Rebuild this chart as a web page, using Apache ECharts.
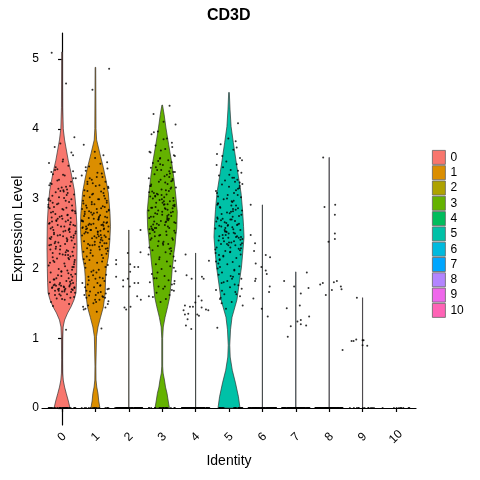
<!DOCTYPE html>
<html><head><meta charset="utf-8">
<script src="https://cdn.jsdelivr.net/npm/echarts@6/dist/echarts.min.js"></script>
<style>html,body{margin:0;padding:0;background:#fff}#c{width:480px;height:480px}</style>
</head><body><div id="c"></div>
<script>
const categories = ['0','1','2','3','4','5','6','7','8','9','10'];
const colors = ['#F8766D','#DB8E00','#AEA200','#64B200','#00BD5C','#00C1A7','#00BADE','#00A6FF','#B385FF','#EF67EB','#FF63B6'];
const yTicks = [0,1,2,3,4,5];

// violin outlines: [expression level, relative half-width]
const shape0 = [[0,0.53],[0.1,0.42],[0.21,0.28],[0.3,0.17],[0.4,0.08],[0.5,0.04],[0.7,0.03],[1.0,0.04],[1.16,0.07],[1.26,0.17],[1.36,0.37],[1.45,0.6],[1.55,0.8],[1.65,0.93],[1.8,0.96],[2.0,0.98],[2.3,1.0],[2.65,0.98],[2.88,0.92],[3.12,0.82],[3.37,0.6],[3.55,0.41],[3.84,0.17],[4.0,0.08],[4.3,0.04],[5.1,0.02]];
const shape1 = [[0,0.3],[0.1,0.22],[0.21,0.17],[0.3,0.09],[0.4,0.04],[0.6,0.03],[1.02,0.07],[1.16,0.17],[1.3,0.34],[1.45,0.53],[1.65,0.65],[1.88,0.68],[2.0,0.72],[2.16,0.86],[2.4,0.96],[2.6,1.0],[2.79,0.97],[3.08,0.86],[3.27,0.7],[3.45,0.52],[3.65,0.29],[3.84,0.08],[4.0,0.04],[4.88,0.02]];
const shape2 = [[0,0.006],[2.55,0.006]];
const shape3 = [[0,0.48],[0.1,0.4],[0.21,0.32],[0.3,0.22],[0.4,0.15],[0.5,0.06],[0.6,0.03],[1.0,0.03],[1.16,0.07],[1.3,0.19],[1.45,0.36],[1.59,0.5],[1.73,0.56],[1.86,0.62],[1.98,0.66],[2.09,0.72],[2.22,0.78],[2.34,0.86],[2.45,0.9],[2.58,0.97],[2.81,1.0],[3.05,0.9],[3.3,0.77],[3.52,0.63],[3.77,0.43],[4.01,0.25],[4.2,0.13],[4.34,0.02]];
const shape4 = [[0,0.006],[2.22,0.006]];
const shape5 = [[0,0.73],[0.16,0.63],[0.36,0.43],[0.54,0.22],[0.73,0.08],[0.9,0.05],[1.12,0.1],[1.3,0.2],[1.55,0.53],[1.79,0.68],[2.02,0.83],[2.26,0.93],[2.45,1.0],[2.6,0.97],[2.84,0.9],[3.08,0.8],[3.31,0.63],[3.55,0.46],[3.8,0.29],[4.03,0.14],[4.27,0.07],[4.52,0.02]];
const shape6 = [[0,0.006],[2.91,0.006]];
const shape7 = [[0,0.006],[1.95,0.006]];
const shape8 = [[0,0.006],[3.59,0.006]];
const shape9 = [[0,0.006],[1.58,0.006]];
const shape10 = [];
const shapes = [shape0,shape1,shape2,shape3,shape4,shape5,shape6,shape7,shape8,shape9,shape10];

// number of cells with zero expression drawn on the 0 line
const zeroCounts = [30,14,80,18,80,20,80,80,80,12,9];

// hand-made jitter offsets (category units)
const jitter = [-0.31,0.12,0.37,-0.05,-0.22,0.28,0.03,-0.39,0.19,-0.14,0.33,-0.27,0.08,0.41,-0.09,-0.35,0.24,-0.01,0.15,-0.19,0.36,-0.29,0.06,-0.41,0.21,-0.11,0.3,-0.24,0.01,0.39,-0.33,0.17,-0.07,0.26,-0.17,0.11,-0.37,0.34,-0.03,0.22,-0.26,0.04,0.4,-0.13,-0.32,0.14,0.29,-0.2,0.09,-0.38,0.35,-0.06,0.18,-0.28,0.02,0.25,-0.15,0.38,-0.23,0.07,-0.4,0.31,-0.1,0.16,-0.34,0.27,-0.02,0.2,-0.25,0.13,-0.36,0.33,-0.08,0.23,-0.18,0.05,0.37,-0.3,0.1,-0.12,0.32,-0.21,0.0,0.27,-0.39,0.15,-0.04,0.36,-0.16,0.08,-0.33,0.21,-0.27,0.12,0.39,-0.06,-0.22,0.3,-0.35,0.04,0.18,-0.13,0.26,-0.29,0.1,-0.41,0.34,-0.09,0.14,-0.19,0.24,-0.02,0.4,-0.31,0.07,-0.24,0.19,-0.37,0.29,-0.11,0.03,0.35,-0.17,0.22,-0.28,0.11,-0.05,0.31,-0.34,0.16,-0.21];

// non-zero expression values (large groups)
const vals0 = [5.09,4.65,3.88,3.79,3.74,3.66,3.56,3.51,3.47,3.42,3.39,3.35,3.33,3.29,3.27,3.22,3.18,3.16,3.13,3.09,3.06,3.04,3.01,2.98,2.95,2.93,2.9,2.88,2.85,2.82,2.8,2.77,2.74,2.72,2.69,2.67,2.65,2.62,2.6,2.57,2.55,2.53,2.5,2.47,2.45,2.43,2.4,2.38,2.35,2.33,2.3,2.27,2.25,2.22,2.2,2.17,2.14,2.12,2.09,2.07,2.04,2.02,1.99,1.97,1.94,1.91,1.89,1.86,1.84,1.82,1.8,1.79,1.77,1.76,1.75,1.74,1.73,1.72,1.71,1.7,1.69,1.68,1.67,1.66,1.64,1.63,1.61,1.59,1.57,1.55,1.52,1.49,1.46,1.12,2.61,2.48,2.36,2.83,2.97,3.12,2.19,2.71,1.78,1.73,2.54,
  2.91,2.44,1.71,3.05,2.28,2.63,1.96,2.79,3.21,1.67,2.51,2.15,2.86,1.83,2.37,3.34,2.02,2.68,1.74,2.94,2.23,3.11,1.88,2.57,2.41,1.62,2.73,3.17,2.09,2.32,1.77,2.99,2.46,2.64,1.93,3.26,2.18,2.81,1.69,2.53,3.02,2.27,1.81,2.75,2.39,3.45,2.06,2.59,1.73,2.88,2.13,3.14,1.98,2.49,2.71,1.65,2.34,3.08,2.21,2.66,1.86,2.97,2.43,3.29,1.75,2.56,2.11,2.84,1.92,2.62,3.38,2.26,1.7,2.78,2.03,3.19,2.47,1.79,2.69,2.16,3.53,1.58,2.92,2.35,1.84,2.6,3.0,2.24,1.68,2.76,2.42,3.24,1.95,2.55,1.76,2.87,2.08,3.62,1.63,2.52,2.31,3.1,1.72,2.67,2.19,1.9,2.83,3.41,1.56,2.45];
const vals1 = [4.86,4.56,3.77,3.62,3.58,3.5,3.46,3.43,3.4,3.37,3.33,3.31,3.27,3.24,3.21,3.18,3.15,3.12,3.1,3.07,3.04,3.02,2.99,2.97,2.94,2.92,2.89,2.87,2.85,2.83,2.8,2.78,2.76,2.74,2.72,2.7,2.68,2.66,2.64,2.62,2.6,2.58,2.56,2.55,2.53,2.51,2.49,2.47,2.45,2.43,2.41,2.39,2.36,2.34,2.32,2.29,2.27,2.24,2.21,2.18,2.15,2.12,2.08,2.05,2.01,1.98,1.95,1.91,1.88,1.85,1.82,1.79,1.76,1.73,1.7,1.67,1.65,1.62,1.6,1.58,1.55,1.53,1.5,1.47,1.44,1.41,1.38,1.14,2.63,2.57,2.52,2.46,2.69,2.81,2.33,1.75,1.61,
  2.61,2.38,2.84,1.73,2.52,3.11,2.19,2.67,1.58,2.95,2.44,2.73,3.29,1.86,2.56,2.31,2.79,1.64,3.04,2.48,2.62,2.07,3.19,1.49,2.71,2.35,2.88,1.94,2.58,3.36,2.26,2.65,1.68,2.99,2.42,2.77,2.13,3.08,1.55,2.54,2.82,2.29,3.45,1.79,2.68,2.4,2.92,2.02,3.24,1.62,2.6,2.5,2.86,1.9,3.14,2.33,2.74,1.45,2.97,2.46,2.63,2.17,3.31,1.71,2.55,2.81,2.37,3.0,1.83,2.7,2.59,3.52,1.97,2.44,2.9,1.52,2.66,2.22,3.17,1.77,2.53,2.85,2.28,3.06,1.66,2.75,2.47,3.67,2.1,2.57,1.87,2.93,2.36,3.22,1.59,2.64,2.8,2.25,1.42,2.72];
const vals3 = [4.33,4.21,4.1,4.06,3.96,3.92,3.86,3.8,3.76,3.71,3.67,3.62,3.58,3.55,3.51,3.48,3.44,3.41,3.38,3.35,3.32,3.29,3.26,3.24,3.21,3.18,3.16,3.13,3.11,3.08,3.06,3.03,3.01,2.98,2.96,2.94,2.91,2.89,2.87,2.85,2.83,2.81,2.79,2.77,2.75,2.72,2.7,2.68,2.66,2.64,2.62,2.6,2.58,2.55,2.53,2.51,2.48,2.46,2.43,2.41,2.38,2.35,2.32,2.29,2.26,2.23,2.2,2.17,2.13,2.1,2.06,2.03,1.99,1.96,1.92,1.89,1.86,1.83,1.8,1.77,1.74,1.71,1.68,1.65,1.62,1.59,1.56,1.52,2.86,2.74,2.92,3.04,2.57,2.67,
  2.91,3.27,2.58,3.52,2.34,3.09,2.77,1.94,3.38,2.63,2.86,3.16,2.47,3.66,2.21,2.99,2.72,3.45,1.78,2.55,3.02,2.83,3.31,2.39,3.74,2.67,2.94,2.11,3.2,2.6,3.57,2.8,1.86,3.12,2.5,2.97,3.41,2.28,2.74,3.85,2.65,3.06,2.43,3.34,1.69,2.88,3.23,2.56,2.01,3.49,2.69,3.0,2.36,3.14,2.78,3.61,2.52,2.92,1.6,3.28,2.62,2.84,3.44,2.25,3.05,2.71,3.95,2.48,3.18,2.9,2.16,3.36,2.58,2.96,1.82,3.1,2.66,3.54,2.41,3.03,2.81,3.25,2.3,2.75,3.69,2.54,3.07,1.74,2.87,3.39];
const vals5 = [4.08,3.86,3.82,3.78,3.7,3.64,3.58,3.53,3.49,3.45,3.41,3.37,3.33,3.3,3.26,3.23,3.2,3.17,3.14,3.11,3.08,3.05,3.02,2.99,2.96,2.93,2.9,2.88,2.85,2.83,2.8,2.78,2.75,2.73,2.7,2.68,2.66,2.63,2.61,2.59,2.57,2.55,2.53,2.51,2.48,2.46,2.44,2.42,2.4,2.37,2.35,2.33,2.3,2.28,2.25,2.23,2.2,2.17,2.15,2.12,2.09,2.06,2.03,2.0,1.97,1.94,1.91,1.88,1.85,1.82,1.79,1.76,1.73,1.69,1.66,1.63,1.6,1.56,1.52,1.47,1.42,1.15,2.62,2.5,2.39,2.71,2.45,
  2.46,2.81,2.27,3.12,2.58,1.92,2.69,3.34,2.36,2.93,1.77,2.52,3.05,2.18,2.74,3.48,2.41,2.62,1.63,2.87,2.3,3.21,2.55,2.07,2.97,2.44,3.61,1.85,2.67,2.34,3.0,2.5,2.13,2.79,3.27,2.39,1.71,2.6,2.9,2.22,3.15,2.48,1.98,2.71,3.4,2.33,2.84,1.58,2.56,3.08,2.26,2.65,3.73,2.43,1.89,2.77,2.19,2.95,2.53,3.18,1.68,2.37,2.86,2.1,3.3,2.61,2.29,1.8,2.7,3.03,2.45,2.02,2.82,3.55,2.35,1.5,2.64,2.91,2.24,3.24];

// small groups: [jitter offset, value]
const pts2 = [[0.35,2.55],[-0.03,2.22],[0.35,2.23],[-0.38,2.06],[0.04,2.06],[0.17,2.02],[0.28,2.02],[0.04,1.95],[-0.38,1.88],[-0.03,1.85],[-0.17,1.83],[0.17,1.79],[0.28,1.79],[-0.17,1.74],[0.03,1.74],[0.25,1.6],[0.36,1.55],[-0.13,1.44],[-0.08,1.41],[0.05,1.45],[-0.38,2.12]];
const pts4 = [[-0.3,2.2],[0.4,2.11],[-0.27,1.9],[-0.12,1.85],[0.19,1.88],[0.24,1.85],[0.09,1.6],[0.18,1.54],[-0.01,1.51],[-0.32,1.47],[-0.17,1.45],[-0.08,1.45],[-0.36,1.4],[0.18,1.44],[0.31,1.41],[0.38,1.4],[-0.32,1.34],[-0.22,1.35],[0.05,1.34],[0.1,1.32],[-0.24,1.27],[-0.29,1.18],[-0.13,1.13]];
const pts6 = [[-0.35,2.91],[-0.35,2.48],[-0.22,2.36],[-0.25,2.25],[-0.2,2.07],[-0.03,2.02],[0.1,2.19],[0.23,2.16],[0.1,1.97],[0.13,1.92],[-0.2,1.85],[-0.22,1.82],[0.22,1.74],[0.2,1.66],[-0.27,1.57],[-0.02,1.42],[0.16,1.31]];
const pts7 = [[-0.35,1.82],[-0.05,1.74],[0.33,1.94],[0.38,1.72],[0.15,1.64],[-0.27,1.43],[0.12,1.47],[0.4,1.31],[0.15,1.26],[0.05,1.24],[-0.15,1.17],[0.15,1.2],[0.31,1.18],[-0.24,1.02]];
const pts8 = [[-0.18,3.59],[-0.14,2.88],[0.18,2.91],[0.17,2.77],[0.17,2.5],[0.17,2.42],[-0.02,2.38],[-0.27,1.77],[-0.19,1.79],[-0.1,1.62],[0.08,1.69],[0.14,1.8],[0.23,1.82],[0.35,1.74],[0.37,1.7],[0.4,0.83]];
const pts9 = [[-0.17,1.58],[-0.33,0.96],[-0.27,0.96],[-0.19,0.98],[0,0.97],[0.03,0.97],[0,0.9],[0.14,0.89]];

const HALF = 0.45;
const bigVals = {0: vals0, 1: vals1, 3: vals3, 5: vals5};
const smallPts = {2: pts2, 4: pts4, 6: pts6, 7: pts7, 8: pts8, 9: pts9};

const points = [];
categories.forEach((c, g) => {
  const n = zeroCounts[g];
  for (let i = 0; i < n; i++) points.push([g + jitter[(i * 3 + g * 17) % jitter.length], 0]);
  if (bigVals[g]) bigVals[g].forEach((v, i) => points.push([g + jitter[(i + g * 13) % jitter.length], v]));
  if (smallPts[g]) smallPts[g].forEach(([o, v]) => points.push([g + o, v]));
});

const FONT = 'Liberation Sans, Arial, sans-serif';

const violinSeries = categories.map((name, g) => ({
  type: 'custom',
  name: name,
  itemStyle: { color: colors[g] },
  data: [[g, 0]],
  encode: { x: 0, y: 1 },
  z: 2,
  silent: true,
  renderItem: (params, api) => {
    const s = shapes[g];
    if (!s.length) return null;
    const right = s.map(([v, w]) => api.coord([g + w * HALF, v]));
    const left = s.slice().reverse().map(([v, w]) => api.coord([g - w * HALF, v]));
    return {
      type: 'polygon',
      shape: { points: right.concat(left) },
      style: { fill: colors[g], stroke: '#333', lineWidth: 0.7 }
    };
  }
}));

const chart = echarts.init(document.getElementById('c'), null, { renderer: 'canvas' });
chart.setOption({
  animation: false,
  backgroundColor: '#fff',
  textStyle: { fontFamily: FONT },
  title: { text: 'CD3D', left: 207, top: 8, padding: 0, textStyle: { fontSize: 16, fontWeight: 'bold', color: '#000', fontFamily: FONT } },
  grid: { left: 42, right: 64, top: 33, bottom: 55 },
  xAxis: {
    type: 'value', min: -0.6, max: 10.6,
    name: 'Identity', nameLocation: 'middle', nameGap: 29,
    nameTextStyle: { fontSize: 14, color: '#000', fontFamily: FONT },
    axisLine: { lineStyle: { color: '#000', width: 1.2 } },
    axisTick: { show: true, length: 4, lineStyle: { color: '#000', width: 1.2 }, customValues: categories.map((c, i) => i) },
    axisLabel: { customValues: categories.map((c, i) => i), formatter: v => categories[Math.round(v)], rotate: 45, align: 'center', verticalAlign: 'middle', fontSize: 12, color: '#000', margin: 12, fontFamily: FONT },
    splitLine: { show: false }
  },
  yAxis: {
    type: 'value', min: -0.2436, max: 5.372,
    name: 'Expression Level', nameLocation: 'middle', nameGap: 17, nameRotate: 90, nameMoveOverlap: false,
    nameTextStyle: { fontSize: 14, color: '#000', fontFamily: FONT },
    axisLine: { show: true, lineStyle: { color: '#000', width: 1.2 } },
    axisTick: { show: true, length: 4, lineStyle: { color: '#000', width: 1.2 }, customValues: yTicks },
    axisLabel: { customValues: yTicks, fontSize: 12, color: '#000', margin: 3, fontFamily: FONT },
    splitLine: { show: false }
  },
  legend: {
    orient: 'vertical', left: 432, top: 150, padding: 0, icon: 'rect',
    itemWidth: 13, itemHeight: 14, itemGap: 0.5,
    data: categories,
    selectedMode: false,
    itemStyle: { borderColor: '#666', borderWidth: 0.8 },
    textStyle: { fontSize: 12, color: '#000', fontFamily: FONT, lineHeight: 14 }
  },
  series: violinSeries.concat([{
    type: 'scatter', name: 'cells', data: points, symbolSize: 2,
    itemStyle: { color: '#000' }, z: 3, silent: true
  }])
});
</script></body></html>
